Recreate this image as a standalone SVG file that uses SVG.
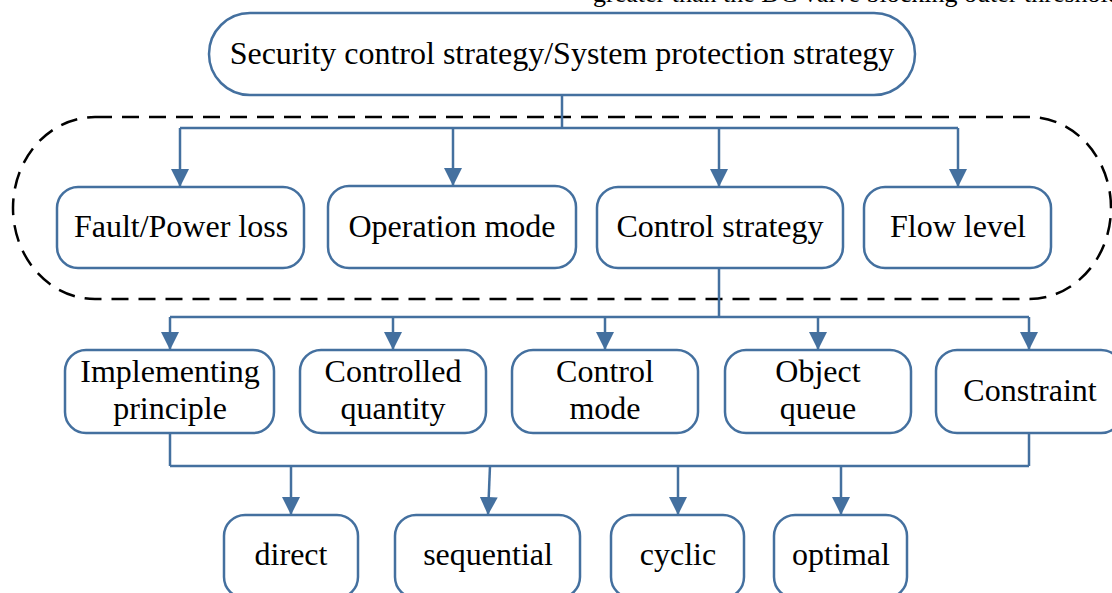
<svg xmlns="http://www.w3.org/2000/svg" width="1112" height="593" viewBox="0 0 1112 593">
<defs>
<style>
.node rect{fill:#fff;stroke:#44709F;stroke-width:2.5}
.node text{font-family:"Liberation Serif","Times New Roman",serif;font-size:32px;fill:#000;text-anchor:middle}
.conn path{fill:none;stroke:#44709F;stroke-width:2.5}
.arr{marker-end:url(#ah)}
.region{fill:none;stroke:#000;stroke-width:2.5;stroke-dasharray:17 10}
.cap{font-family:"Liberation Serif","Times New Roman",serif;font-size:26px;fill:#000}
</style>
<marker id="ah" markerUnits="userSpaceOnUse" markerWidth="18" markerHeight="18" refX="18" refY="9" orient="auto" viewBox="0 0 18 18">
<path d="M0,0 L18,9 L0,18 z" fill="#44709F"/>
</marker>
</defs>
<rect width="1112" height="593" fill="#fff"/>
<text class="cap" x="593" y="2">greater than the DC valve blocking outer threshold</text>
<rect id="region" class="region" x="13" y="117" width="1098" height="182" rx="82" ry="91"/>
<g id="connectors" class="conn">
<path d="M562,95 V128 M180,128 H958"/>
<path class="arr" d="M180,128 V187"/>
<path class="arr" d="M453,128 V186"/>
<path class="arr" d="M719,128 V187"/>
<path class="arr" d="M958,128 V187"/>
<path d="M719,268 V317 M170,317 H1029"/>
<path class="arr" d="M170,317 V350"/>
<path class="arr" d="M393,317 V350"/>
<path class="arr" d="M605,317 V350"/>
<path class="arr" d="M818,317 V350"/>
<path class="arr" d="M1029,317 V350"/>
<path d="M170,433 V466 M1029,433 V466 M170,466 H1029"/>
<path class="arr" d="M291,466 V515"/>
<path class="arr" d="M490,466 L488,515"/>
<path class="arr" d="M678,466 V515"/>
<path class="arr" d="M841,466 V515"/>
</g>
<g id="n-top" class="node"><rect x="209" y="13" width="706" height="82" rx="41"/><text x="562" y="64">Security control strategy/System protection strategy</text></g>
<g id="n-fault" class="node"><rect x="57" y="187" width="247" height="81" rx="21"/><text x="181" y="237">Fault/Power loss</text></g>
<g id="n-opmode" class="node"><rect x="328" y="186" width="248" height="82" rx="21"/><text x="452" y="237">Operation mode</text></g>
<g id="n-ctrlstrat" class="node"><rect x="597" y="187" width="246" height="81" rx="21"/><text x="720" y="237">Control strategy</text></g>
<g id="n-flow" class="node"><rect x="864" y="187" width="187" height="81" rx="21"/><text x="958" y="237">Flow level</text></g>
<g id="n-impl" class="node"><rect x="65" y="350" width="209" height="83" rx="21"/><text x="170" y="382">Implementing</text><text x="170" y="419">principle</text></g>
<g id="n-quant" class="node"><rect x="300" y="350" width="186" height="83" rx="21"/><text x="393" y="382">Controlled</text><text x="393" y="419">quantity</text></g>
<g id="n-mode" class="node"><rect x="512" y="350" width="186" height="83" rx="21"/><text x="605" y="382">Control</text><text x="605" y="419">mode</text></g>
<g id="n-queue" class="node"><rect x="725" y="350" width="186" height="83" rx="21"/><text x="818" y="382">Object</text><text x="818" y="419">queue</text></g>
<g id="n-constraint" class="node"><rect x="936" y="350" width="186" height="83" rx="21"/><text x="1030" y="401">Constraint</text></g>
<g id="n-direct" class="node"><rect x="224" y="515" width="134" height="83" rx="21"/><text x="291" y="565">direct</text></g>
<g id="n-seq" class="node"><rect x="395" y="515" width="185" height="83" rx="21"/><text x="488" y="565">sequential</text></g>
<g id="n-cyclic" class="node"><rect x="611" y="515" width="133" height="83" rx="21"/><text x="678" y="565">cyclic</text></g>
<g id="n-optimal" class="node"><rect x="774" y="515" width="133" height="83" rx="21"/><text x="841" y="565">optimal</text></g>
</svg>
